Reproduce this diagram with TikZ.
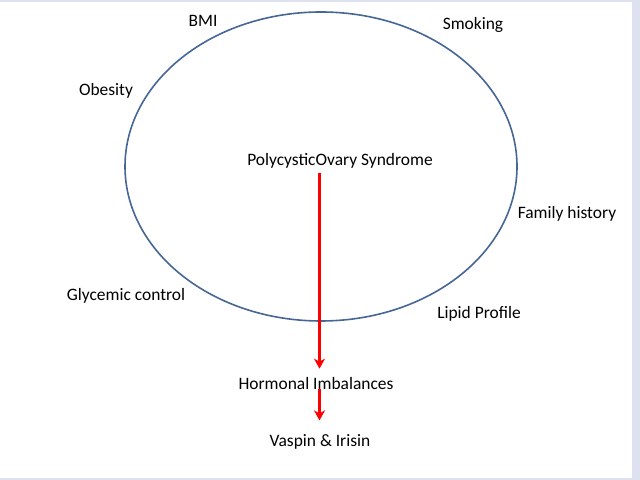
\documentclass[tikz,border=0pt]{standalone}
\usepackage{fontspec}
\setmainfont{Carlito}
\usetikzlibrary{arrows.meta}

\begin{document}
\begin{tikzpicture}[x=1bp,y=1bp,
    factor/.style={font=\fontsize{17.5}{20}\selectfont, inner sep=0pt},
    redarrow/.style={draw=arrowred, line width=2.6bp, -{Stealth[length=10bp,width=11bp,inset=3bp]}}]
    % Define colors
    \definecolor{framecol}{RGB}{222,226,240}
    \definecolor{ringcol}{RGB}{70,102,150}
    \definecolor{arrowred}{RGB}{255,0,0}

    % Frame
    \fill[framecol] (0,0) rectangle (640,480);
    \fill[white] (0,1.5) rectangle (632,477.5);
    \useasboundingbox (0,0) rectangle (640,480);

    % Ring round the syndrome
    \draw[ringcol, line width=1.6bp] (321,313.5) ellipse [x radius=196, y radius=154.5];

    % Factor labels
    \node[factor] (bmi) at (203,459.5) {BMI};
    \node[factor] (smoking) at (473,455.5) {Smoking};
    \node[factor] (obesity) at (106,389.5) {Obesity};
    \node[factor] (family) at (567,266.5) {Family history};
    \node[factor] (glycemic) at (126,184.5) {Glycemic control};
    \node[factor] (lipid) at (479,166.5) {Lipid Profile};

    % Chain
    \node[factor] (pcos) at (340,319.5) {PolycysticOvary Syndrome};
    \node[factor] (hormonal) at (316,96.5) {Hormonal Imbalances};
    \node[factor] (vaspin) at (320,38.5) {Vaspin \& Irisin};
    \coordinate (axis) at (319.5,0);

    \draw[redarrow, shorten <=4.5bp, shorten >=8.5bp] (pcos.south -| axis) -- (hormonal.north -| axis);
    \draw[redarrow, shorten <=-0.5bp, shorten >=13.5bp] (hormonal.south -| axis) -- (vaspin.north -| axis);
\end{tikzpicture}
\end{document}
